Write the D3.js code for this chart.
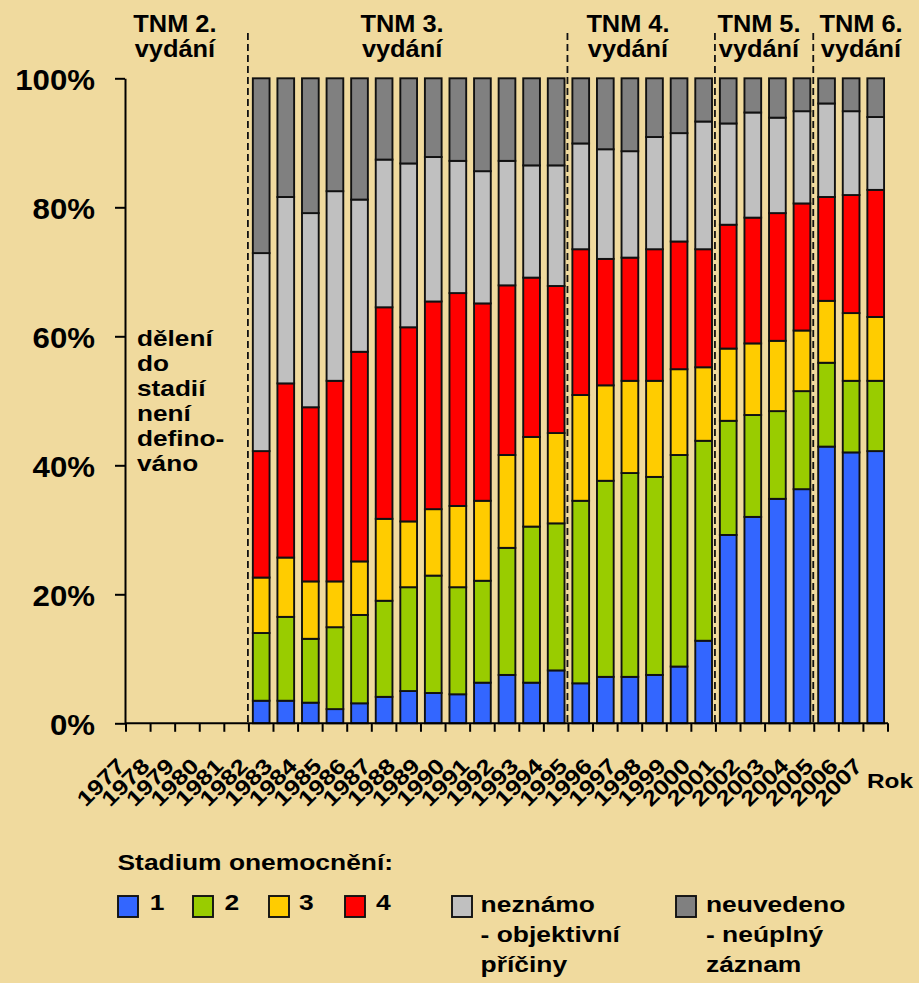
<!DOCTYPE html>
<html><head><meta charset="utf-8">
<script src="https://cdn.jsdelivr.net/npm/d3@7"></script>
<style>
html,body{margin:0;padding:0;background:#F0DA9E;}
svg{display:block;font-family:"Liberation Sans",Arial,sans-serif;font-weight:bold;}
</style>
</head><body><div id="chart"></div>
<script>
// ---------- DATA ----------
const years = ["1977","1978","1979","1980","1981","1982","1983","1984","1985","1986","1987","1988","1989","1990","1991","1992","1993","1994","1995","1996","1997","1998","1999","2000","2001","2002","2003","2004","2005","2006","2007"];
const dataYears = ["1982","1983","1984","1985","1986","1987","1988","1989","1990","1991","1992","1993","1994","1995","1996","1997","1998","1999","2000","2001","2002","2003","2004","2005","2006","2007"];
const stage1   = [3.5,3.5,3.2,2.2,3.1,4.1,5.0,4.7,4.5,6.3,7.5,6.3,8.2,6.2,7.2,7.2,7.5,8.8,12.8,29.2,32.0,34.8,36.3,42.9,42.0,42.2];
const stage2   = [10.5,13.0,9.9,12.7,13.7,14.9,16.1,18.2,16.6,15.8,19.7,24.2,22.8,28.3,30.4,31.6,30.7,32.8,31.0,17.7,15.8,13.6,15.2,13.0,11.1,10.9];
const stage3   = [8.6,9.2,8.9,7.1,8.3,12.7,10.2,10.3,12.6,12.4,14.4,13.9,14.0,16.4,14.8,14.3,14.9,13.3,11.4,11.2,11.1,10.9,9.4,9.6,10.5,9.9];
const stage4   = [19.6,27.0,27.0,31.1,32.5,32.8,30.1,32.2,33.0,30.6,26.3,24.7,22.8,22.6,19.6,19.1,20.4,19.8,18.3,19.2,19.5,19.8,19.7,16.1,18.3,19.7];
const unknown  = [30.7,28.9,30.1,29.4,23.6,22.9,25.4,22.4,20.5,20.5,19.3,17.4,18.7,16.4,17.0,16.5,17.4,16.8,19.8,15.7,16.3,14.8,14.3,14.5,13.0,11.3];
const notStated= [27.1,18.4,20.9,17.5,18.8,12.6,13.2,12.2,12.8,14.4,12.8,13.5,13.5,10.1,11.0,11.3,9.1,8.5,6.7,7.0,5.3,6.1,5.1,3.9,5.1,6.0];
const seriesKeys = ["s1","s2","s3","s4","unk","nv"];
const seriesColors = ["#3366FF","#99CC00","#FFCC00","#FF0000","#C0C0C0","#808080"];
const yTicks = [0,20,40,60,80,100];
const editionLabels = ["TNM 2.","TNM 3.","TNM 4.","TNM 5.","TNM 6."];
const editionLabelPos = [1.99, 11.23, 20.42, 25.75, 29.9]; // in category units from left edge
const editionStarts = ["1982","1995","2001","2005"];
const noteLines = ["dělení","do","stadií","není","defino-","váno"];
const legendTitle = "Stadium onemocnění:";
const legendLabels = [["1"],["2"],["3"],["4"],["neznámo","- objektivní","příčiny"],["neuvedeno","- neúplný","záznam"]];
const xAxisTitle = "Rok";

// ---------- SETUP ----------
const W = 919, H = 983;
const svg = d3.select("#chart").append("svg").attr("width", W).attr("height", H);
svg.append("rect").attr("width", W).attr("height", H).attr("fill", "#F0DA9E");

const x = d3.scaleBand().domain(years).range([126, 888]).paddingInner(0.32).paddingOuter(0.16);
const y = d3.scaleLinear().domain([0, 100]).range([723.3, 78.3]);
const step = x.step();
const left = x.range()[0];
const xu = t => left + t * step;

function addText(g, str, px, py, size, sx, anchor) {
  return g.append("text")
    .attr("transform", `translate(${px},${py}) scale(${sx},1)`)
    .attr("text-anchor", anchor || "start")
    .attr("font-size", size)
    .attr("fill", "#000")
    .text(str);
}

// ---------- BARS ----------
const rows = dataYears.map((yr, i) => ({year: yr, s1: stage1[i], s2: stage2[i], s3: stage3[i], s4: stage4[i], unk: unknown[i], nv: notStated[i]}));
const stacked = d3.stack().keys(seriesKeys)(rows);
const color = d3.scaleOrdinal().domain(seriesKeys).range(seriesColors);

svg.append("g").selectAll("g").data(stacked).join("g")
  .attr("fill", d => color(d.key))
  .selectAll("rect").data(d => d).join("rect")
  .attr("x", d => x(d.data.year))
  .attr("width", x.bandwidth())
  .attr("y", d => y(d[1]))
  .attr("height", d => y(d[0]) - y(d[1]))
  .attr("stroke", "#111")
  .attr("stroke-width", 1.9);

// ---------- DASHED EDITION LINES ----------
svg.append("g").selectAll("line").data(editionStarts).join("line")
  .attr("x1", d => x(d) - (step - x.bandwidth()) / 2 - 1)
  .attr("x2", d => x(d) - (step - x.bandwidth()) / 2 - 1)
  .attr("y1", 33).attr("y2", y(0))
  .attr("stroke", "#111").attr("stroke-width", 1.8)
  .attr("stroke-dasharray", "7,4");

// ---------- AXES ----------
const yAxis = svg.append("g").attr("transform", "translate(125,0)")
  .call(d3.axisLeft(y).tickValues(yTicks).tickFormat(d => d + "%").tickSize(10).tickSizeOuter(0));
yAxis.select(".domain").attr("stroke", "#000").attr("stroke-width", 2);
yAxis.selectAll(".tick line").attr("stroke", "#000").attr("stroke-width", 2);
yAxis.selectAll(".tick text")
  .attr("x", null).attr("dy", "0.36em")
  .attr("transform", "translate(-30,0) scale(1.04,1)")
  .attr("font-size", 30).attr("font-family", null).attr("font-weight", "bold").attr("fill", "#000");

const xAxis = svg.append("g").attr("transform", `translate(0,${y(0)})`)
  .call(d3.axisBottom(x).tickSize(0).tickSizeOuter(0));
xAxis.select(".domain").attr("stroke", "#000").attr("stroke-width", 2)
  .attr("d", `M${left - 1},0H${x.range()[1]}`);
xAxis.selectAll(".tick text")
  .attr("y", null).attr("dy", null)
  .attr("text-anchor", "end")
  .attr("transform", "translate(-12,44) rotate(-45) scale(1.2,1)")
  .attr("font-size", 21.5).attr("font-family", null).attr("font-weight", "bold").attr("fill", "#000");
// boundary ticks
svg.append("g").selectAll("line").data(d3.range(years.length + 1)).join("line")
  .attr("x1", i => xu(i)).attr("x2", i => xu(i))
  .attr("y1", y(0)).attr("y2", y(0) + 8.5)
  .attr("stroke", "#000").attr("stroke-width", 2);

addText(svg, xAxisTitle, 867, 788, 21, 1.16, "start");

// ---------- EDITION HEADERS ----------
editionLabels.forEach((lab, i) => {
  addText(svg, lab, xu(editionLabelPos[i]), 32, 23.5, 1.08, "middle");
  addText(svg, "vydání", xu(editionLabelPos[i]), 57, 23.5, 1.08, "middle");
});

// ---------- NOTE ----------
noteLines.forEach((ln, i) => addText(svg, ln, xu(0.45), 345.7 + i * 25, 22, 1.19, "start"));

// ---------- LEGEND ----------
addText(svg, legendTitle, 117.5, 870, 22, 1.2, "start");
const legendSquareX = [118, 193, 269, 345, 452, 676];
const legendTextX = [149.8, 224.4, 299, 376, 480.6, 706];
legendLabels.forEach((lines, i) => {
  svg.append("rect").attr("x", legendSquareX[i]).attr("y", 896).attr("width", 20).attr("height", 21)
    .attr("fill", seriesColors[i]).attr("stroke", "#111").attr("stroke-width", 1.9);
  lines.forEach((ln, j) => {
    const by = lines.length === 1 ? 909.5 : 912 + j * 30;
    addText(svg, ln, legendTextX[i], by, 22, 1.2, "start");
  });
});
</script>
</body></html>
